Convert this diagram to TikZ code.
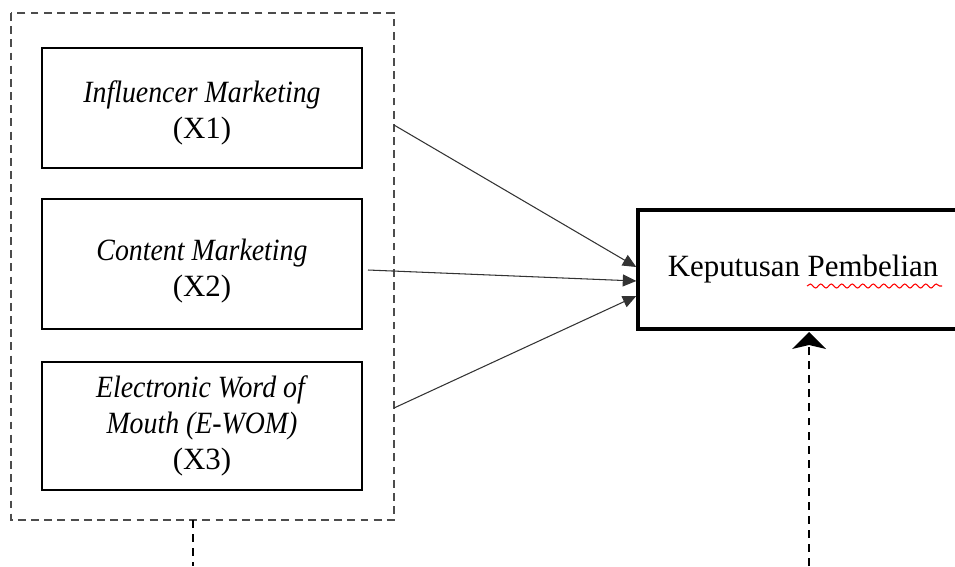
\documentclass[tikz,border=0pt]{standalone}
\usepackage{fontspec}
\setmainfont{Liberation Serif}[ItalicFeatures={FakeStretch=0.9}]
\usepackage{tikz}
\usetikzlibrary{arrows.meta,decorations.pathmorphing}

\tikzset{
  var/.style={draw,line width=1.6pt,minimum width=6.4cm,align=center,
    font=\fontsize{17.6}{20.5}\selectfont},
  frame/.style={draw=black!70,line width=1pt,dash pattern=on 4.5pt off 3pt},
  guide/.style={line width=1.1pt,dash pattern=on 4.5pt off 3.5pt},
  infl/.style={draw=black!80,line width=0.6pt,-{Triangle[length=0.27cm,width=0.24cm]}}
}

\begin{document}
\begin{tikzpicture}[x=0.02cm,y=-0.02cm]
  \useasboundingbox (0,0) rectangle (955,566);
  % independent variables
  \draw[frame] (11,13) rectangle (394,520);
  \node[var,minimum height=2.4cm]  (x1) at (202,108) {\rule{0pt}{6.5mm}\textit{Influencer Marketing}\\(X1)};
  \node[var,minimum height=2.6cm]  (x2) at (202,264) {\rule{0pt}{7mm}\textit{Content Marketing}\\(X2)};
  \node[var,minimum height=2.56cm] (x3) at (202,426) {\textit{Electronic Word of}\\\textit{Mouth (E-WOM)}\\(X3)};
  % dependent variable
  \node[var,line width=2pt,minimum width=6.6cm,minimum height=2.38cm] (y) at (803,269.5) {Keputusan Pembelian};
  \draw[red,line width=0.6pt,decorate,decoration={snake,amplitude=0.04cm,segment length=0.21cm}]
    (807,286) -- (942,286);
  % arrows into y
  \coordinate (s1) at (394,125);
  \coordinate (s2) at (368,270);
  \coordinate (s3) at (394,408);
  \path
    (s1) edge[infl] ([yshift=0.05cm]y.west)
    (s2) edge[infl] ([yshift=-0.23cm]y.west)
    (s3) edge[infl] ([yshift=-0.53cm]y.west);
  % dashed guides at the bottom
  \coordinate (b1) at (193,520);
  \coordinate (b2) at (193,566);
  \coordinate (c1) at (809,566);
  \coordinate (c2) at (809,332);
  \draw[guide] (b1) -- (b2);
  \draw[guide] (c1) -- (c2);
  \fill (c2) -- ++(17,17) -- ++(-17,-4) -- ++(-17,4) -- cycle;
\end{tikzpicture}
\end{document}
